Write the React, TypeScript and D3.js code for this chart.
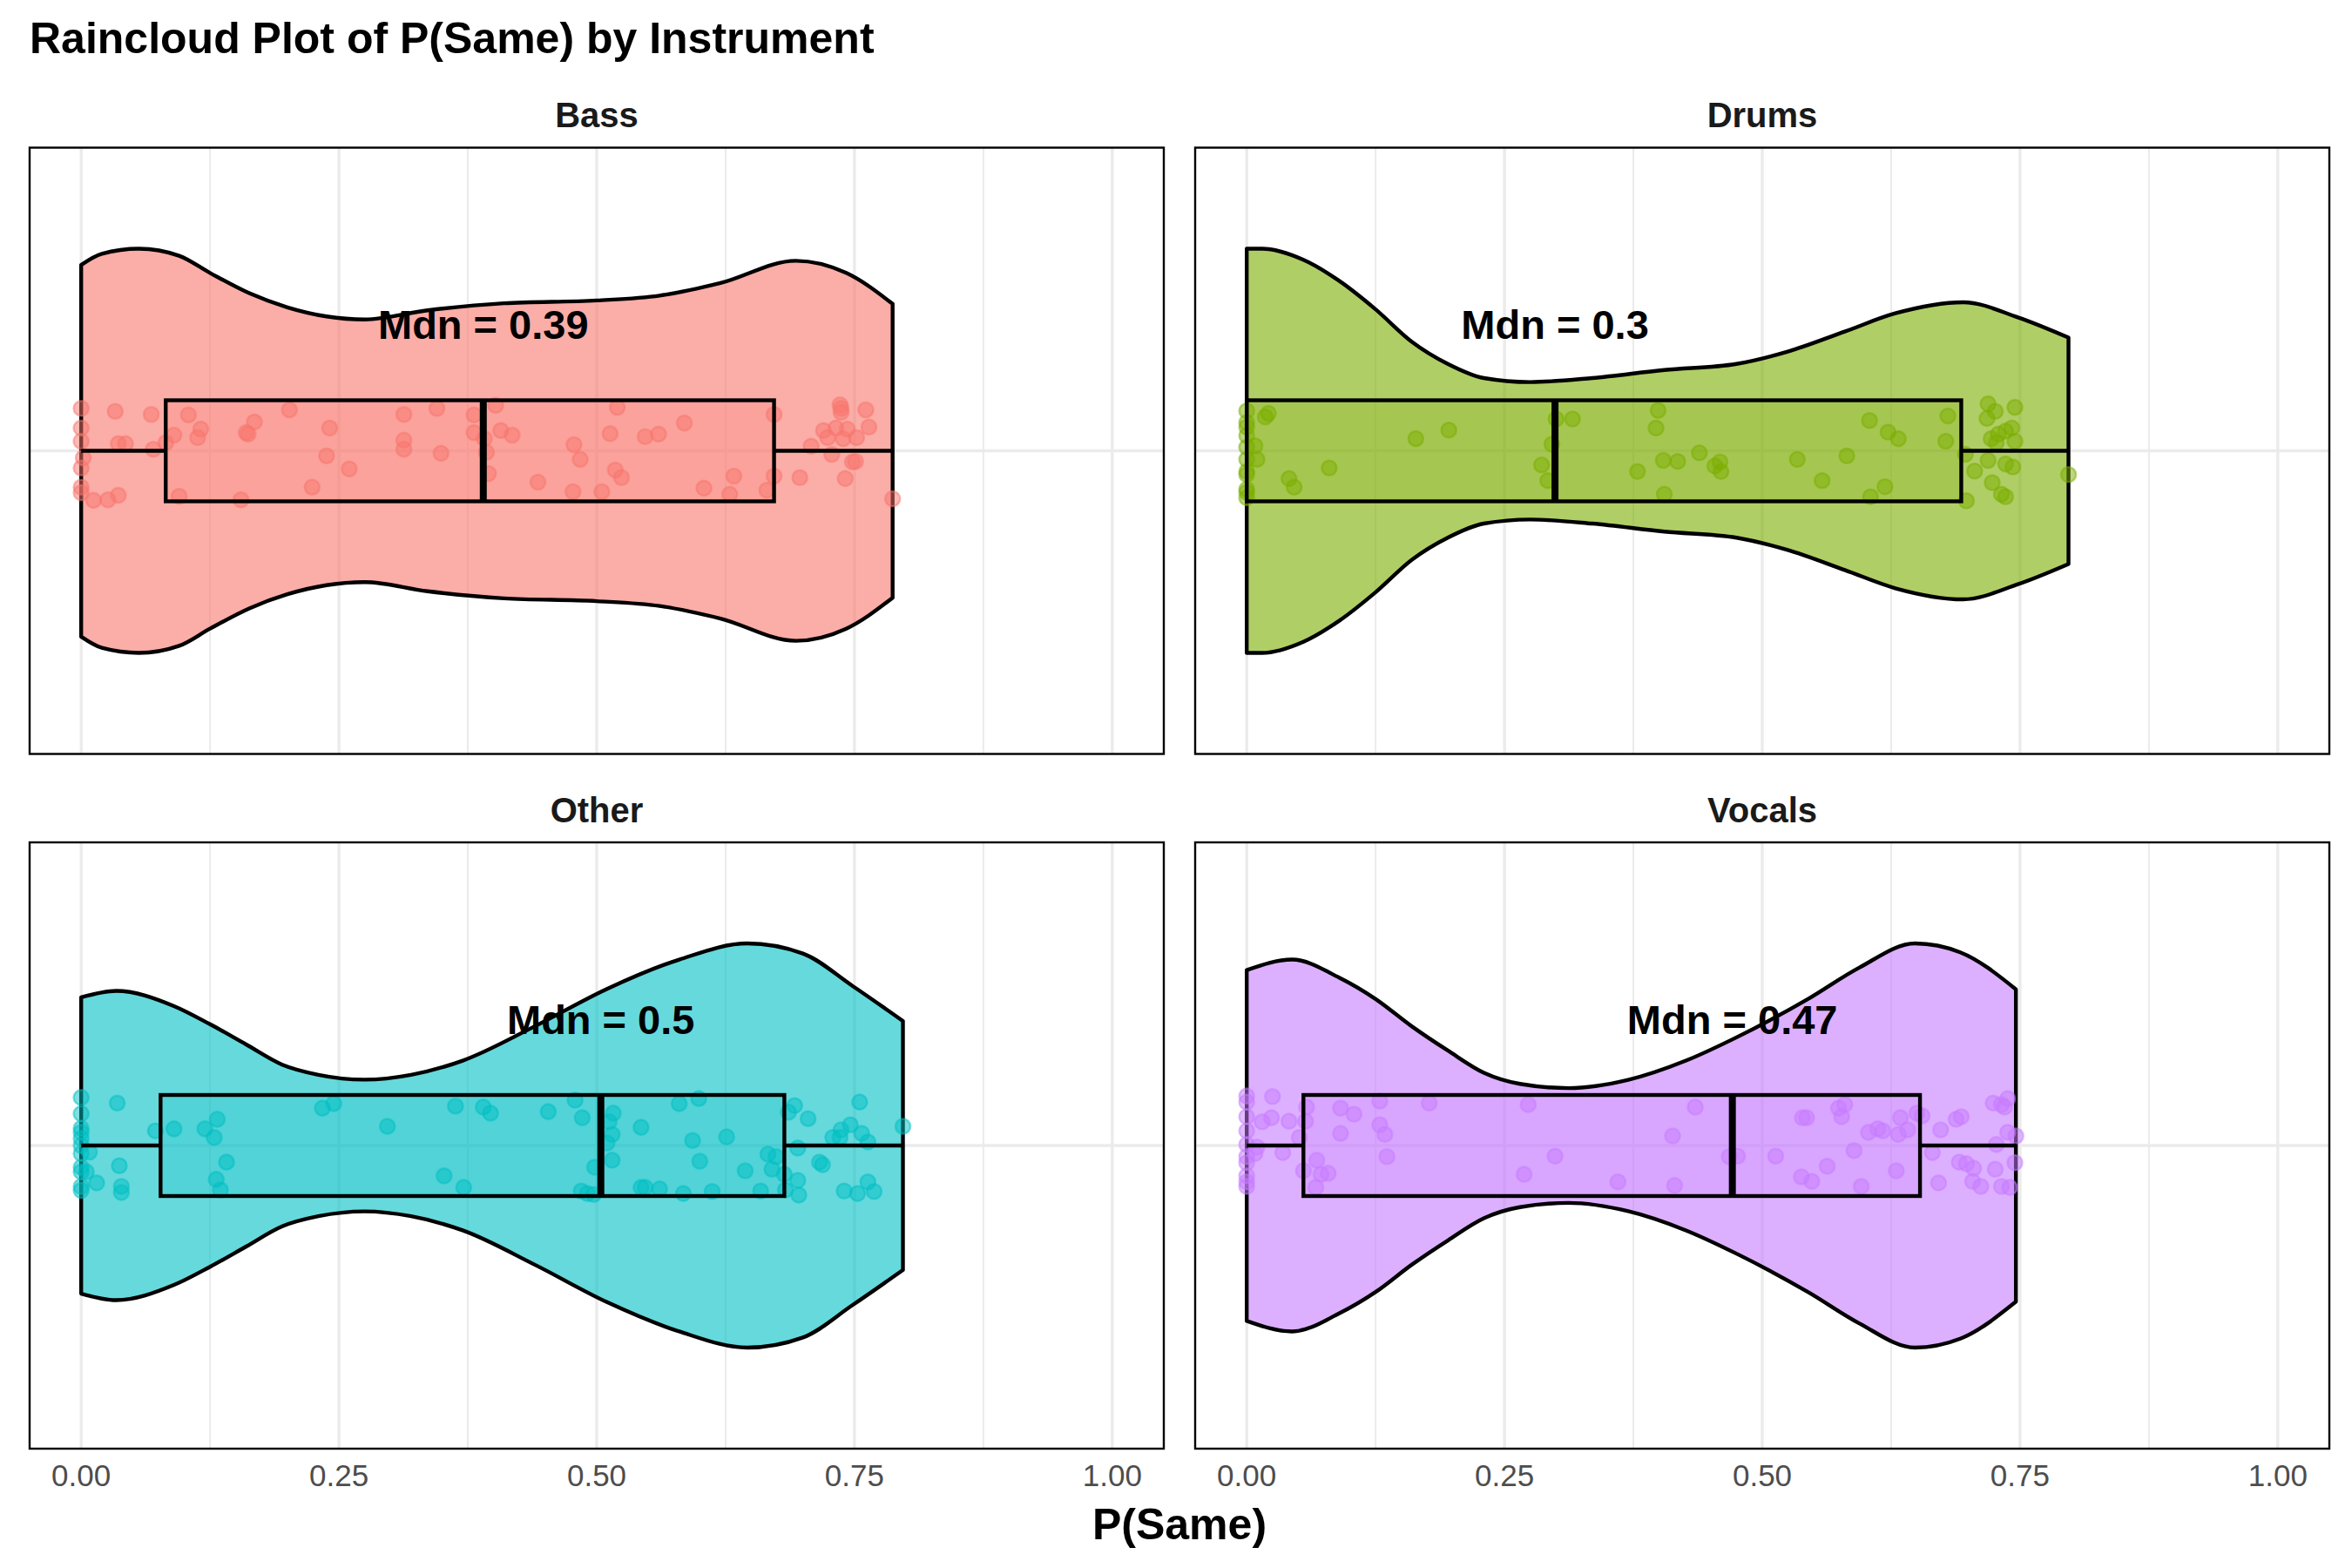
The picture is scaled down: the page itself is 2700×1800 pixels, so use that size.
import * as d3 from "d3";

// facets
const instruments = ["Bass", "Drums", "Other", "Vocals"];
const fillColors = ["#F8766D", "#7CAE00", "#00BFC4", "#C77CFF"];
const medianLabels = ["Mdn = 0.39", "Mdn = 0.3", "Mdn = 0.5", "Mdn = 0.47"];

// min, q1, median, q3, max
const boxStats = [
  [0, 0.082, 0.39, 0.672, 0.787],
  [0, 0.0, 0.299, 0.693, 0.797],
  [0, 0.077, 0.504, 0.682, 0.797],
  [0, 0.055, 0.471, 0.653, 0.746],
];

const xTicks = [0, 0.25, 0.5, 0.75, 1];
const xTickLabels = ["0.00", "0.25", "0.50", "0.75", "1.00"];
const xMinorTicks = [0.125, 0.375, 0.625, 0.875];

// violin outline: [P(Same), relative density]
const bassViolin: [number, number][] = [
  [0, 0.92], [0.02, 0.975], [0.056, 1.0], [0.095, 0.965], [0.125, 0.88], [0.163, 0.78],
  [0.2, 0.71], [0.238, 0.665], [0.275, 0.65], [0.336, 0.695], [0.41, 0.73], [0.5, 0.744],
  [0.561, 0.768], [0.62, 0.83], [0.693, 0.94], [0.742, 0.88], [0.787, 0.727],
];
const drumsViolin: [number, number][] = [
  [0, 1.0], [0.015, 1.0], [0.055, 0.945], [0.09, 0.84], [0.125, 0.7], [0.16, 0.54],
  [0.195, 0.43], [0.23, 0.36], [0.275, 0.34], [0.335, 0.36], [0.405, 0.4], [0.475, 0.43],
  [0.524, 0.49], [0.58, 0.59], [0.629, 0.68], [0.695, 0.735], [0.748, 0.66], [0.797, 0.56],
];
const otherViolin: [number, number][] = [
  [0, 0.733], [0.034, 0.765], [0.09, 0.69], [0.125, 0.6], [0.16, 0.5], [0.195, 0.4],
  [0.23, 0.35], [0.275, 0.326], [0.32, 0.35], [0.37, 0.42], [0.44, 0.59], [0.51, 0.775],
  [0.58, 0.92], [0.646, 1.0], [0.7, 0.95], [0.748, 0.79], [0.797, 0.616],
];
const vocalsViolin: [number, number][] = [
  [0, 0.868], [0.044, 0.92], [0.09, 0.83], [0.125, 0.725], [0.16, 0.59], [0.195, 0.47],
  [0.23, 0.36], [0.265, 0.305], [0.312, 0.284], [0.37, 0.325], [0.426, 0.42], [0.475, 0.535],
  [0.545, 0.727], [0.594, 0.88], [0.648, 1.0], [0.692, 0.956], [0.746, 0.773],
];

// jittered observations: [P(Same), jitter below the centre line]
const bassPoints: [number, number][] = [
  [0, -0.084], [0, -0.045], [0, -0.019], [0.002, 0.014], [0, 0.034], [0, 0.072], [0, 0.083],
  [0.033, -0.078], [0.068, -0.072], [0.036, -0.014], [0.043, -0.014], [0.07, -0.003],
  [0.012, 0.098], [0.026, 0.097], [0.036, 0.088], [0.082, -0.016], [0.09, -0.031],
  [0.104, -0.071], [0.116, -0.043], [0.113, -0.026], [0.095, 0.09], [0.168, -0.057],
  [0.16, -0.036], [0.162, -0.033], [0.202, -0.081], [0.155, 0.097], [0.241, -0.045],
  [0.238, 0.01], [0.26, 0.036], [0.224, 0.072], [0.313, -0.072], [0.345, -0.084],
  [0.313, -0.021], [0.313, -0.003], [0.349, 0.005], [0.381, -0.071], [0.381, -0.036],
  [0.391, -0.024], [0.393, 0.003], [0.395, 0.045], [0.402, -0.09], [0.407, -0.04],
  [0.418, -0.031], [0.443, 0.062], [0.478, -0.012], [0.484, 0.017], [0.477, 0.081],
  [0.52, -0.086], [0.513, -0.034], [0.518, 0.038], [0.524, 0.053], [0.505, 0.081],
  [0.547, -0.028], [0.56, -0.033], [0.585, -0.055], [0.604, 0.074], [0.633, 0.05],
  [0.629, 0.086], [0.665, 0.078], [0.672, -0.072], [0.672, 0.05], [0.697, 0.053],
  [0.708, -0.009], [0.72, -0.04], [0.724, -0.026], [0.728, 0.007], [0.732, -0.045],
  [0.739, -0.024], [0.743, -0.043], [0.752, -0.026], [0.736, -0.091], [0.737, -0.084],
  [0.737, -0.076], [0.761, -0.081], [0.764, -0.047], [0.748, 0.022], [0.751, 0.021],
  [0.741, 0.055], [0.787, 0.095],
];
const drumsPoints: [number, number][] = [
  [0, -0.079], [0, -0.056], [0, -0.047], [0, -0.03], [0, -0.007], [0, 0.017], [0, 0.041],
  [0, 0.047], [0, 0.076], [0, 0.082], [0, 0.093], [0.008, -0.01], [0.01, 0.017],
  [0.018, -0.067], [0.021, -0.074], [0.041, 0.055], [0.046, 0.072], [0.08, 0.034],
  [0.164, -0.024], [0.196, -0.041], [0.286, 0.028], [0.292, 0.059], [0.296, -0.013],
  [0.3, -0.063], [0.316, -0.063], [0.399, -0.08], [0.397, -0.045], [0.379, 0.041],
  [0.404, 0.019], [0.418, 0.021], [0.405, 0.086], [0.439, 0.004], [0.454, 0.03],
  [0.459, 0.022], [0.46, 0.041], [0.534, 0.017], [0.558, 0.059], [0.582, 0.01],
  [0.604, -0.06], [0.622, -0.037], [0.632, -0.024], [0.619, 0.071], [0.605, 0.091],
  [0.68, -0.069], [0.678, -0.019], [0.697, 0.007], [0.706, 0.04], [0.698, 0.099],
  [0.719, -0.093], [0.726, -0.078], [0.718, -0.064], [0.745, -0.086], [0.722, -0.024],
  [0.729, -0.033], [0.736, -0.039], [0.742, -0.045], [0.745, -0.019], [0.727, -0.016],
  [0.719, 0.019], [0.736, 0.026], [0.743, 0.032], [0.723, 0.063], [0.732, 0.086],
  [0.736, 0.091], [0.797, 0.047],
];
const otherPoints: [number, number][] = [
  [0, -0.095], [0, -0.063], [0, -0.034], [0, -0.026], [0, -0.014], [0, 0], [0, 0.016],
  [0, 0.043], [0, 0.052], [0, 0.081], [0, 0.089], [0.008, 0.013], [0.005, 0.052],
  [0.015, 0.074], [0.035, -0.084], [0.037, 0.04], [0.039, 0.081], [0.039, 0.093],
  [0.072, -0.029], [0.09, -0.033], [0.12, -0.033], [0.132, -0.052], [0.129, -0.016],
  [0.141, 0.033], [0.131, 0.067], [0.135, 0.088], [0.234, -0.074], [0.245, -0.083],
  [0.297, -0.038], [0.352, 0.06], [0.371, 0.083], [0.363, -0.078], [0.39, -0.076],
  [0.397, -0.064], [0.453, -0.067], [0.479, -0.09], [0.486, -0.055], [0.498, 0.043],
  [0.485, 0.09], [0.491, 0.095], [0.497, 0.097], [0.516, -0.064], [0.512, -0.047],
  [0.515, -0.022], [0.51, -0.005], [0.515, 0.029], [0.543, -0.036], [0.58, -0.083],
  [0.599, -0.093], [0.593, -0.01], [0.626, -0.017], [0.6, 0.031], [0.644, 0.05],
  [0.543, 0.083], [0.547, 0.083], [0.561, 0.086], [0.584, 0.095], [0.612, 0.091],
  [0.659, 0.09], [0.666, 0.017], [0.674, 0.022], [0.67, 0.047], [0.682, 0.057],
  [0.695, 0.069], [0.683, 0.088], [0.696, 0.098], [0.686, -0.066], [0.692, -0.079],
  [0.705, -0.053], [0.695, 0.005], [0.716, 0.033], [0.719, 0.038], [0.729, -0.016],
  [0.737, -0.031], [0.746, -0.041], [0.736, -0.016], [0.757, -0.024], [0.763, -0.007],
  [0.755, -0.086], [0.74, 0.09], [0.753, 0.095], [0.763, 0.072], [0.769, 0.091],
  [0.797, -0.038],
];
const vocalsPoints: [number, number][] = [
  [0, -0.098], [0, -0.086], [0, -0.057], [0, -0.029], [0, -0.002], [0, 0.022], [0, 0.034],
  [0, 0.06], [0, 0.072], [0, 0.081], [0.01, 0.003], [0.008, 0.016], [0.015, -0.047],
  [0.024, -0.055], [0.025, -0.097], [0.035, 0.014], [0.041, -0.048], [0.051, -0.016],
  [0.057, -0.048], [0.058, -0.076], [0.055, 0.05], [0.068, 0.029], [0.072, 0.057],
  [0.079, 0.055], [0.067, 0.083], [0.091, -0.074], [0.104, -0.062], [0.091, -0.024],
  [0.129, -0.088], [0.129, -0.041], [0.134, -0.022], [0.136, 0.022], [0.177, -0.084],
  [0.273, -0.081], [0.269, 0.057], [0.299, 0.021], [0.36, 0.072], [0.435, -0.076],
  [0.413, -0.019], [0.415, 0.079], [0.468, 0.022], [0.476, 0.021], [0.513, 0.021],
  [0.539, -0.055], [0.543, -0.055], [0.538, 0.062], [0.548, 0.071], [0.563, 0.041],
  [0.574, -0.074], [0.58, -0.081], [0.577, -0.057], [0.589, 0.01], [0.596, 0.081],
  [0.603, -0.026], [0.612, -0.033], [0.617, -0.029], [0.634, -0.055], [0.632, -0.022],
  [0.641, -0.031], [0.63, 0.05], [0.65, -0.064], [0.655, -0.059], [0.665, 0.014],
  [0.673, -0.031], [0.671, 0.074], [0.688, -0.052], [0.693, -0.057], [0.691, 0.033],
  [0.698, 0.036], [0.705, 0.045], [0.704, 0.071], [0.712, 0.081], [0.724, -0.084],
  [0.732, -0.081], [0.738, -0.093], [0.735, -0.076], [0.727, -0.002], [0.738, -0.026],
  [0.746, -0.019], [0.726, 0.047], [0.745, 0.034], [0.732, 0.081], [0.74, 0.083],
];

const violins = [bassViolin, drumsViolin, otherViolin, vocalsViolin];
const points = [bassPoints, drumsPoints, otherPoints, vocalsPoints];

const WIDTH = 2700;
const HEIGHT = 1800;
const PANEL_W = 1302;
const PANEL_H = 696;
const COL_X = [34, 1372];
const ROW_Y = [169.5, 967];
const VIOLIN_HALF = 0.4;
const BOX_HALF = 0.1;
const LABEL_Y = 1.25;
const FONT = "'Liberation Sans', Arial, Helvetica, sans-serif";
const GRID = "#EBEBEB";

const x = d3.scaleLinear().domain([-0.05, 1.05]).range([0, PANEL_W]);
const y = d3.scaleLinear().domain([0.4, 1.6]).range([PANEL_H, 0]);

const violinArea = d3
  .area<[number, number]>()
  .x((d) => x(d[0]))
  .y0((d) => y(1 - d[1] * VIOLIN_HALF))
  .y1((d) => y(1 + d[1] * VIOLIN_HALF))
  .curve(d3.curveMonotoneX);

const Panel = ({ i }: { i: number }) => {
  const col = i % 2;
  const row = Math.floor(i / 2);
  const color = fillColors[i];
  const [lo, q1, med, q3, hi] = boxStats[i];

  return (
    <g transform={`translate(${COL_X[col]},${ROW_Y[row]})`}>
      <text
        x={PANEL_W / 2}
        y={-23.5}
        textAnchor="middle"
        fontFamily={FONT}
        fontWeight="bold"
        fontSize={40}
        fill="#1A1A1A"
      >
        {instruments[i]}
      </text>

      {xMinorTicks.map((t) => (
        <line key={"m" + t} x1={x(t)} x2={x(t)} y1={0} y2={PANEL_H} stroke={GRID} strokeWidth={2} />
      ))}
      {xTicks.map((t) => (
        <line key={"M" + t} x1={x(t)} x2={x(t)} y1={0} y2={PANEL_H} stroke={GRID} strokeWidth={3.4} />
      ))}
      <line x1={0} x2={PANEL_W} y1={y(1)} y2={y(1)} stroke={GRID} strokeWidth={3.4} />

      <path
        d={violinArea(violins[i]) as string}
        fill={color}
        fillOpacity={0.6}
        stroke="black"
        strokeWidth={4.4}
        strokeLinejoin="round"
      />

      <g fill={color} stroke={color} fillOpacity={0.5} strokeOpacity={0.5} strokeWidth={2.4}>
        {points[i].map((d, k) => (
          <circle key={k} cx={x(d[0])} cy={y(1 - d[1])} r={8.6} />
        ))}
      </g>

      <g stroke="black" strokeWidth={4.4}>
        <line x1={x(lo)} x2={x(q1)} y1={y(1)} y2={y(1)} />
        <line x1={x(q3)} x2={x(hi)} y1={y(1)} y2={y(1)} />
        <rect
          x={x(q1)}
          y={y(1 + BOX_HALF)}
          width={x(q3) - x(q1)}
          height={y(1 - BOX_HALF) - y(1 + BOX_HALF)}
          fill={color}
          fillOpacity={0.2}
        />
        <line x1={x(med)} x2={x(med)} y1={y(1 + BOX_HALF)} y2={y(1 - BOX_HALF)} strokeWidth={8} />
      </g>

      <text
        x={x(med)}
        y={y(LABEL_Y)}
        dy="0.36em"
        textAnchor="middle"
        fontFamily={FONT}
        fontWeight="bold"
        fontSize={47}
        fill="black"
      >
        {medianLabels[i]}
      </text>

      <rect x={0} y={0} width={PANEL_W} height={PANEL_H} fill="none" stroke="black" strokeWidth={2.4} />

      {row === 1 &&
        xTicks.map((t, k) => (
          <text
            key={t}
            x={x(t)}
            y={PANEL_H + 43}
            textAnchor="middle"
            fontFamily={FONT}
            fontSize={35}
            fill="#4D4D4D"
          >
            {xTickLabels[k]}
          </text>
        ))}
    </g>
  );
};

const App = () => {
  return (
    <div style={{ position: "absolute", left: 0, top: 0 }}>
      <svg width={WIDTH} height={HEIGHT} style={{ display: "block", background: "white" }}>
        <rect width={WIDTH} height={HEIGHT} fill="white" />
        <text x={34} y={61} fontFamily={FONT} fontWeight="bold" fontSize={50} fill="black">
          Raincloud Plot of P(Same) by Instrument
        </text>
        {instruments.map((_, i) => (
          <Panel key={i} i={i} />
        ))}
        <text
          x={(COL_X[0] + COL_X[1] + PANEL_W) / 2}
          y={1767}
          textAnchor="middle"
          fontFamily={FONT}
          fontWeight="bold"
          fontSize={50}
          fill="black"
        >
          P(Same)
        </text>
      </svg>
    </div>
  );
};

export default App;
